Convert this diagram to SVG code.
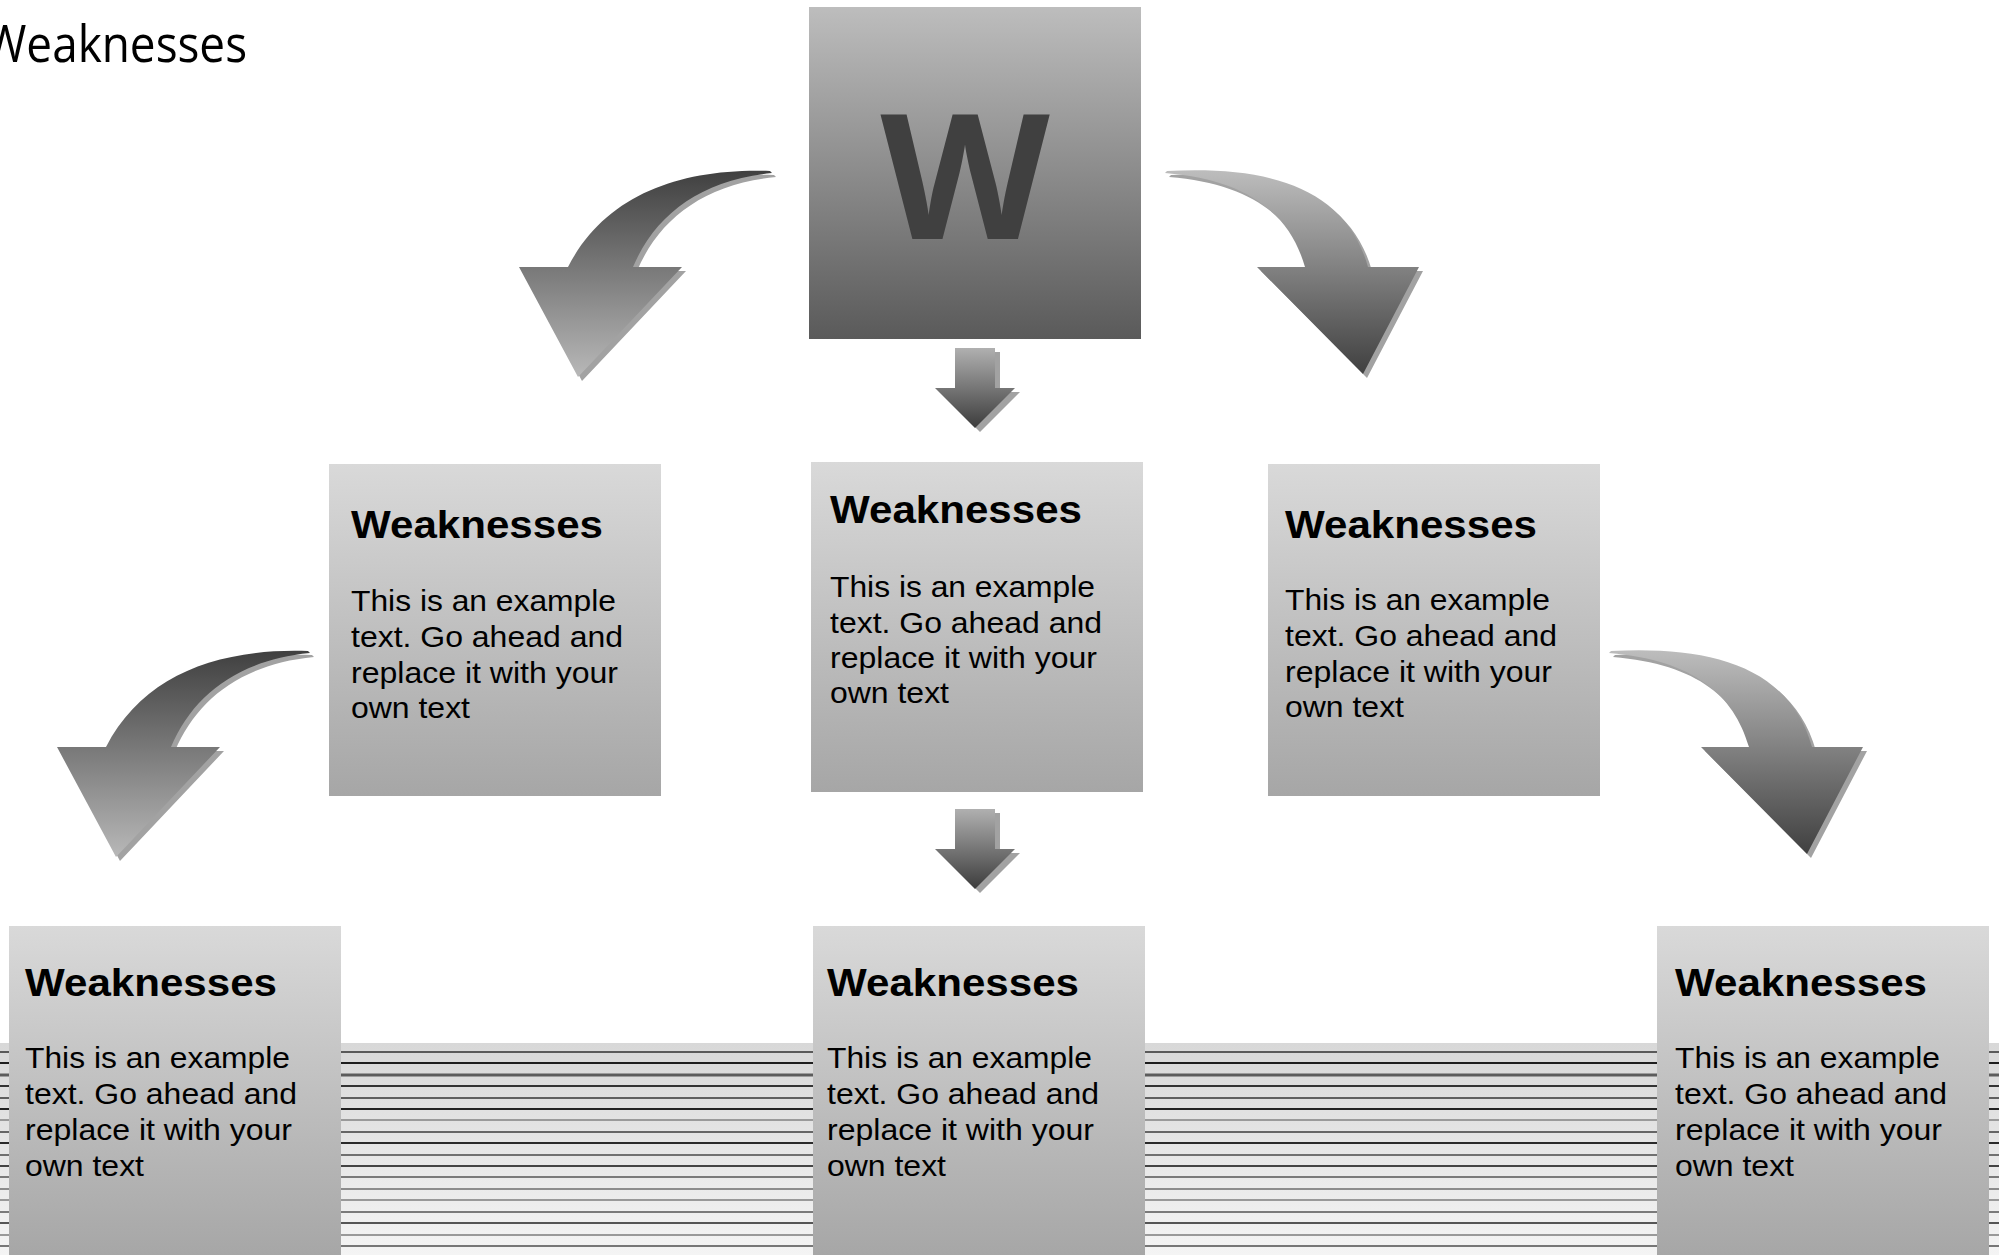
<svg xmlns="http://www.w3.org/2000/svg" width="1999" height="1255" viewBox="0 0 1999 1255">
<style>
.t{font-family:"Liberation Sans",Arial,sans-serif;font-weight:bold;font-size:38px;fill:#000}
.b{font-family:"Liberation Sans",Arial,sans-serif;font-size:30px;fill:#000}
.sh{fill:#a2a2a2}
.st{stroke-width:2}
</style>
<defs>
<linearGradient id="gTop" x1="0" y1="0" x2="0" y2="1"><stop offset="0" stop-color="#bdbdbd"/><stop offset="1" stop-color="#5a5a5a"/></linearGradient>
<linearGradient id="gBox" x1="0" y1="0" x2="0" y2="1"><stop offset="0" stop-color="#d9d9d9"/><stop offset="1" stop-color="#a6a6a6"/></linearGradient>
<linearGradient id="gBand" x1="0" y1="0" x2="0" y2="1"><stop offset="0" stop-color="#d8d8d8"/><stop offset="1" stop-color="#f4f4f4"/></linearGradient>
<linearGradient id="gDarkTop" x1="0" y1="0" x2="0" y2="1"><stop offset="0" stop-color="#404040"/><stop offset="1" stop-color="#b8b8b8"/></linearGradient>
<linearGradient id="gLightTop" x1="0" y1="0" x2="0" y2="1"><stop offset="0" stop-color="#bdbdbd"/><stop offset="1" stop-color="#404040"/></linearGradient>
<linearGradient id="gSmall" x1="0" y1="0" x2="0" y2="1"><stop offset="0" stop-color="#b0b0b0"/><stop offset="1" stop-color="#3c3c3c"/></linearGradient>
<path id="arrL" d="M770,171 C680,168 605,195 568,267 L519,267 L578,377 L682,267 L633,267 C655,215 700,180 772,173 Z"/>
<path id="arrR" d="M1167,171 C1265,166 1345,185 1368,267 L1419,267 L1363,374 L1257,267 L1305,267 C1290,215 1250,180 1165,173 Z"/>
<path id="arrS" d="M955,348 H995 V388 H1015 L975,428 L935,388 H955 Z"/>
</defs>
<rect width="1999" height="1255" fill="#fff"/>

<g id="band">
<rect x="0" y="1043" width="1999" height="212" fill="url(#gBand)"/>
<g class="st">
<line x1="0" x2="1999" y1="1052" y2="1052" stroke="#5a5a5a"/>
<line x1="0" x2="1999" y1="1063" y2="1063" stroke="#1e1e1e"/>
<line x1="0" x2="1999" y1="1075" y2="1075" stroke="#5c5c5c" stroke-width="3"/>
<line x1="0" x2="1999" y1="1086" y2="1086" stroke="#333"/>
<line x1="0" x2="1999" y1="1098" y2="1098" stroke="#5f5f5f"/>
<line x1="0" x2="1999" y1="1109" y2="1109" stroke="#222"/>
<line x1="0" x2="1999" y1="1120" y2="1120" stroke="#9a9a9a"/>
<line x1="0" x2="1999" y1="1132" y2="1132" stroke="#666"/>
<line x1="0" x2="1999" y1="1143" y2="1143" stroke="#2a2a2a"/>
<line x1="0" x2="1999" y1="1155" y2="1155" stroke="#707070"/>
<line x1="0" x2="1999" y1="1166" y2="1166" stroke="#444"/>
<line x1="0" x2="1999" y1="1177" y2="1177" stroke="#7a7a7a"/>
<line x1="0" x2="1999" y1="1189" y2="1189" stroke="#8c8c8c"/>
<line x1="0" x2="1999" y1="1200" y2="1200" stroke="#999"/>
<line x1="0" x2="1999" y1="1212" y2="1212" stroke="#7a7a7a"/>
<line x1="0" x2="1999" y1="1223" y2="1223" stroke="#555"/>
<line x1="0" x2="1999" y1="1235" y2="1235" stroke="#999"/>
<line x1="0" x2="1999" y1="1246" y2="1246" stroke="#777"/>
</g>
</g>

<g id="page-title">
<text x="-16" y="62" font-family="'Open Sans','Noto Sans',sans-serif" font-size="52" textLength="263" lengthAdjust="spacingAndGlyphs" fill="#000">Weaknesses</text>
</g>

<g id="connectors">
<use href="#arrL" class="sh" transform="translate(4,4)"/>
<use href="#arrL" fill="url(#gDarkTop)"/>
<use href="#arrR" class="sh" transform="translate(4,4)"/>
<use href="#arrR" fill="url(#gLightTop)"/>
<use href="#arrL" class="sh" transform="translate(-458,484)"/>
<use href="#arrL" fill="url(#gDarkTop)" transform="translate(-462,480)"/>
<use href="#arrR" class="sh" transform="translate(448,484)"/>
<use href="#arrR" fill="url(#gLightTop)" transform="translate(444,480)"/>
<use href="#arrS" class="sh" transform="translate(5,4)"/>
<use href="#arrS" fill="url(#gSmall)"/>
<use href="#arrS" class="sh" transform="translate(5,465)"/>
<use href="#arrS" fill="url(#gSmall)" transform="translate(0,461)"/>
</g>

<g id="node-w">
<rect x="809" y="7" width="332" height="332" fill="url(#gTop)"/>
<text x="965" y="239" text-anchor="middle" font-family="'Open Sans','Noto Sans',sans-serif" font-weight="bold" font-size="175" fill="#404040">W</text>
</g>

<g id="node-mid-left">
<rect x="329" y="464" width="332" height="332" fill="url(#gBox)"/>
<text class="t" x="351" y="538" textLength="252" lengthAdjust="spacingAndGlyphs">Weaknesses</text>
<text class="b" x="351" y="611" textLength="265" lengthAdjust="spacingAndGlyphs">This is an example</text>
<text class="b" x="351" y="647" textLength="272" lengthAdjust="spacingAndGlyphs">text. Go ahead and</text>
<text class="b" x="351" y="683" textLength="267" lengthAdjust="spacingAndGlyphs">replace it with your</text>
<text class="b" x="351" y="718" textLength="119" lengthAdjust="spacingAndGlyphs">own text</text>
</g>

<g id="node-mid-center">
<rect x="811" y="462" width="332" height="330" fill="url(#gBox)"/>
<text class="t" x="830" y="523" textLength="252" lengthAdjust="spacingAndGlyphs">Weaknesses</text>
<text class="b" x="830" y="597" textLength="265" lengthAdjust="spacingAndGlyphs">This is an example</text>
<text class="b" x="830" y="633" textLength="272" lengthAdjust="spacingAndGlyphs">text. Go ahead and</text>
<text class="b" x="830" y="668" textLength="267" lengthAdjust="spacingAndGlyphs">replace it with your</text>
<text class="b" x="830" y="703" textLength="119" lengthAdjust="spacingAndGlyphs">own text</text>
</g>

<g id="node-mid-right">
<rect x="1268" y="464" width="332" height="332" fill="url(#gBox)"/>
<text class="t" x="1285" y="538" textLength="252" lengthAdjust="spacingAndGlyphs">Weaknesses</text>
<text class="b" x="1285" y="610" textLength="265" lengthAdjust="spacingAndGlyphs">This is an example</text>
<text class="b" x="1285" y="646" textLength="272" lengthAdjust="spacingAndGlyphs">text. Go ahead and</text>
<text class="b" x="1285" y="682" textLength="267" lengthAdjust="spacingAndGlyphs">replace it with your</text>
<text class="b" x="1285" y="717" textLength="119" lengthAdjust="spacingAndGlyphs">own text</text>
</g>

<g id="node-bottom-left">
<rect x="9" y="926" width="332" height="332" fill="url(#gBox)"/>
<text class="t" x="25" y="996" textLength="252" lengthAdjust="spacingAndGlyphs">Weaknesses</text>
<text class="b" x="25" y="1068" textLength="265" lengthAdjust="spacingAndGlyphs">This is an example</text>
<text class="b" x="25" y="1104" textLength="272" lengthAdjust="spacingAndGlyphs">text. Go ahead and</text>
<text class="b" x="25" y="1140" textLength="267" lengthAdjust="spacingAndGlyphs">replace it with your</text>
<text class="b" x="25" y="1176" textLength="119" lengthAdjust="spacingAndGlyphs">own text</text>
</g>

<g id="node-bottom-center">
<rect x="813" y="926" width="332" height="332" fill="url(#gBox)"/>
<text class="t" x="827" y="996" textLength="252" lengthAdjust="spacingAndGlyphs">Weaknesses</text>
<text class="b" x="827" y="1068" textLength="265" lengthAdjust="spacingAndGlyphs">This is an example</text>
<text class="b" x="827" y="1104" textLength="272" lengthAdjust="spacingAndGlyphs">text. Go ahead and</text>
<text class="b" x="827" y="1140" textLength="267" lengthAdjust="spacingAndGlyphs">replace it with your</text>
<text class="b" x="827" y="1176" textLength="119" lengthAdjust="spacingAndGlyphs">own text</text>
</g>

<g id="node-bottom-right">
<rect x="1657" y="926" width="332" height="332" fill="url(#gBox)"/>
<text class="t" x="1675" y="996" textLength="252" lengthAdjust="spacingAndGlyphs">Weaknesses</text>
<text class="b" x="1675" y="1068" textLength="265" lengthAdjust="spacingAndGlyphs">This is an example</text>
<text class="b" x="1675" y="1104" textLength="272" lengthAdjust="spacingAndGlyphs">text. Go ahead and</text>
<text class="b" x="1675" y="1140" textLength="267" lengthAdjust="spacingAndGlyphs">replace it with your</text>
<text class="b" x="1675" y="1176" textLength="119" lengthAdjust="spacingAndGlyphs">own text</text>
</g>
</svg>
